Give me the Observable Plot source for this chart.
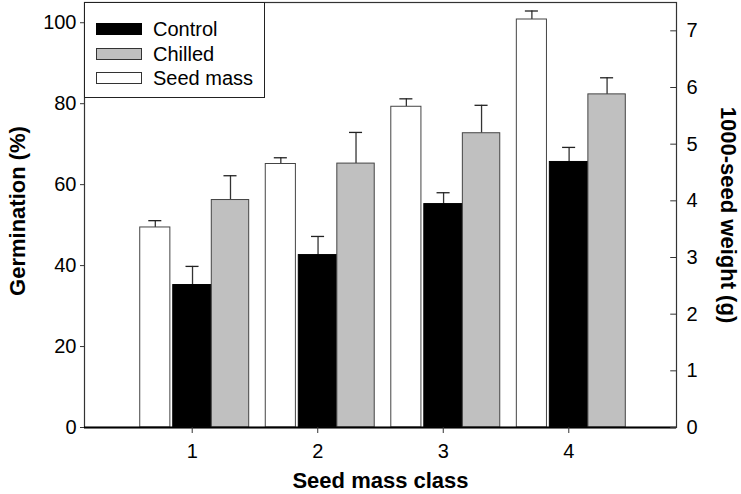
<!DOCTYPE html>
<html>
<head>
<meta charset="utf-8">
<script src="https://cdn.jsdelivr.net/npm/d3@7"></script>
<script src="https://cdn.jsdelivr.net/npm/@observablehq/plot@0.6"></script>
<style>
  html, body { margin: 0; padding: 0; background: white; }
  #wrap { position: relative; width: 741px; height: 494px; font-family: "Liberation Sans", Arial, sans-serif; }
  #legend { position: absolute; left: 84px; top: 2px; width: 181px; height: 96px; border: 1px solid #222; background: white; box-sizing: border-box; }
  .row { position: absolute; left: 11px; height: 24px; display: flex; align-items: center; font-size: 20px; }
  .sw { width: 46px; height: 12px; box-sizing: border-box; border: 1px solid #333; margin-right: 11px; }
</style>
</head>
<body>
<div id="wrap"></div>
<script>
// ---- data ----
const classes = [1, 2, 3, 4];
const control = [35.2, 42.6, 55.2, 65.6];
const controlErr = [4.6, 4.6, 2.8, 3.6];
const chilled = [56.2, 65.2, 72.7, 82.3];
const chilledErr = [6.0, 7.7, 6.9, 4.1];
const seedMass = [3.53, 4.65, 5.66, 7.20];   // g, right axis
const seedMassErr = [0.12, 0.11, 0.14, 0.15];
const leftTicks = [0, 20, 40, 60, 80, 100];
const rightTicks = [0, 1, 2, 3, 4, 5, 6, 7];
const seriesNames = ["Control", "Chilled", "Seed mass"];

// ---- layout constants ----
const Y_MAX = 105, R_MAX = 7.5, RATIO = Y_MAX / R_MAX;
const X_DOMAIN = [0.142, 4.858];
const offsets = {
  "Seed mass": [-0.414, -0.174],
  "Control": [-0.151, 0.156],
  "Chilled": [0.156, 0.454]
};
const fills = {"Control": "black", "Chilled": "#c0c0c0", "Seed mass": "white"};
const CAP = 0.052;
const RIGHT_TICK = 0.046;

const rows = [];
classes.forEach((c, i) => {
  rows.push({cls: c, series: "Seed mass", y: seedMass[i] * RATIO, top: (seedMass[i] + seedMassErr[i]) * RATIO});
  rows.push({cls: c, series: "Control", y: control[i], top: control[i] + controlErr[i]});
  rows.push({cls: c, series: "Chilled", y: chilled[i], top: chilled[i] + chilledErr[i]});
});
const x1 = d => d.cls + offsets[d.series][0];
const x2 = d => d.cls + offsets[d.series][1];
const xc = d => (x1(d) + x2(d)) / 2;

const plot = Plot.plot({
  width: 741,
  height: 494,
  marginLeft: 84,
  marginRight: 65,
  marginTop: 2,
  marginBottom: 67,
  style: {fontFamily: "'Liberation Sans', Arial, sans-serif", fontSize: "20px", background: "white", color: "black"},
  x: {domain: X_DOMAIN},
  y: {domain: [0, Y_MAX]},
  marks: [
    Plot.ruleX(rows, {x: xc, y1: "y", y2: "top", stroke: "#333", strokeWidth: 1.3}),
    Plot.ruleY(rows, {y: "top", x1: d => xc(d) - CAP, x2: d => xc(d) + CAP, stroke: "#222", strokeWidth: 1.3}),
    Plot.rectY(rows, {x1, x2, y1: 0, y2: "y", fill: d => fills[d.series], stroke: d => d.series === "Control" ? "black" : "#444", strokeWidth: 1}),
    Plot.frame({stroke: "#333", strokeWidth: 1.2}),
    Plot.ruleY([0], {stroke: "black", strokeWidth: 2}),
    Plot.axisY({ticks: leftTicks, tickSize: 4, tickPadding: 4, label: null, stroke: "#333"}),
    Plot.axisY({anchor: "right", ticks: rightTicks.map(v => v * RATIO), tickSize: 0, tickPadding: 10, tickFormat: d => String(Math.round(d / RATIO)), label: null}),
    Plot.ruleY(rightTicks.map(v => v * RATIO), {y: d => d, x1: X_DOMAIN[1] - RIGHT_TICK, x2: X_DOMAIN[1], stroke: "#333"}),
    Plot.axisX({ticks: classes, tickSize: 6, tickPadding: 10, tickFormat: d => String(d), label: null, stroke: "#333"}),
    Plot.text(["Germination (%)"], {frameAnchor: "left", dx: -67, dy: -4, rotate: -90, textAnchor: "middle", lineAnchor: "middle", fontSize: 22, fontWeight: "bold"}),
    Plot.text(["1000-seed weight (g)"], {frameAnchor: "right", dx: 52, rotate: 90, textAnchor: "middle", lineAnchor: "middle", fontSize: 22, fontWeight: "bold"}),
    Plot.text(["Seed mass class"], {frameAnchor: "bottom", dy: 53, textAnchor: "middle", lineAnchor: "middle", fontSize: 22, fontWeight: "bold"})
  ]
});

const wrap = document.getElementById("wrap");
wrap.appendChild(plot);
const legend = document.createElement("div");
legend.id = "legend";
const tops = [14, 39, 63];
seriesNames.forEach((name, i) => {
  const r = document.createElement("div");
  r.className = "row";
  r.style.top = tops[i] + "px";
  const sw = document.createElement("span");
  sw.className = "sw";
  sw.style.background = fills[name];
  if (name === "Control") sw.style.borderColor = "black";
  const t = document.createElement("span");
  t.textContent = name;
  r.appendChild(sw); r.appendChild(t);
  legend.appendChild(r);
});
wrap.appendChild(legend);
</script>
</body>
</html>
